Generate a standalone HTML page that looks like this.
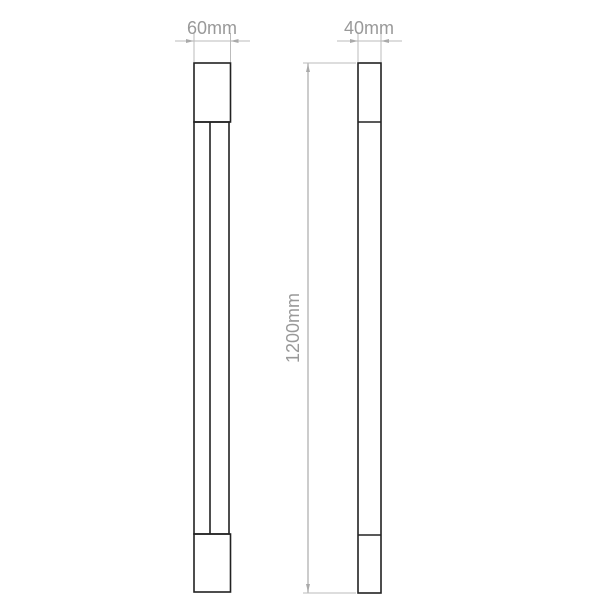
<!DOCTYPE html>
<html><head><style>html,body{margin:0;padding:0;background:#fff}</style></head>
<body>
<svg width="600" height="600" viewBox="0 0 600 600" xmlns="http://www.w3.org/2000/svg">
<g fill="none" stroke="#222" stroke-width="1.6">
<rect x="194" y="63" width="36.5" height="59"/>
<rect x="194" y="122" width="35" height="412"/>
<line x1="210" y1="122" x2="210" y2="534"/>
<rect x="194" y="534" width="36.5" height="58"/>
<rect x="358" y="63" width="23" height="530"/>
<line x1="358" y1="122" x2="381" y2="122"/>
<line x1="358" y1="535" x2="381" y2="535"/>
</g>
<g stroke="#bbb" stroke-width="1" fill="none">
<line x1="175" y1="41" x2="250" y2="41"/>
<line x1="194" y1="33" x2="194" y2="62"/>
<line x1="230.5" y1="33" x2="230.5" y2="62"/>
<line x1="337" y1="41" x2="402" y2="41"/>
<line x1="358" y1="33" x2="358" y2="62"/>
<line x1="381" y1="33" x2="381" y2="62"/>
<line x1="303" y1="63" x2="356" y2="63"/>
<line x1="303" y1="593" x2="356" y2="593"/>
<line x1="308" y1="63" x2="308" y2="593" stroke-width="1.5"/>
</g>
<g fill="#aaa">
<polygon points="194,41 186,39 186,43"/>
<polygon points="230.5,41 238.5,39 238.5,43"/>
<polygon points="358,41 350,39 350,43"/>
<polygon points="381,41 389,39 389,43"/>
<polygon points="308,64 306,72 310,72"/>
<polygon points="308,592 306,584 310,584"/>
</g>
<g font-family="Liberation Sans, sans-serif" font-size="18" fill="#999" text-anchor="middle">
<text x="212" y="34">60mm</text>
<text x="369" y="34">40mm</text>
<text x="0" y="0" transform="translate(299,328) rotate(-90)">1200mm</text>
</g>
</svg>
</body></html>
